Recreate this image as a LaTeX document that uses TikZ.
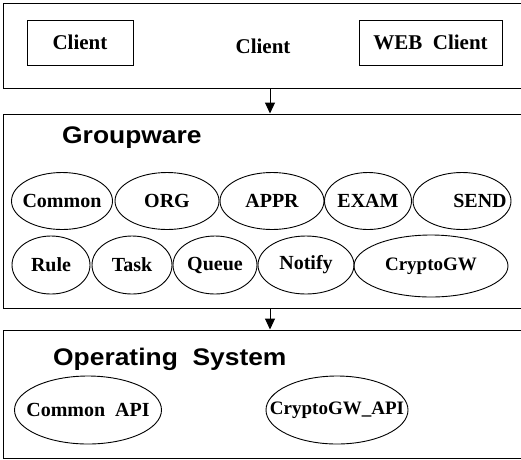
\documentclass[tikz,border=0pt]{standalone}
\usepackage{fontspec}
\setmainfont{Liberation Serif}
\newfontfamily\headfont{Liberation Sans}
\usetikzlibrary{shapes.geometric,arrows.meta}
\newcommand{\inoval}[1]{\makebox[0pt]{#1}}
\tikzset{
  panel/.style={draw, line width=1pt, inner sep=0pt},
  cbox/.style={draw, line width=1pt, inner sep=0pt, font=\fontsize{21}{23}\selectfont\bfseries},
  oval/.style={draw, ellipse, line width=0.9pt, inner sep=0pt, font=\fontsize{20}{22}\selectfont\bfseries},
  lbl/.style={inner sep=0pt, font=\fontsize{21}{23}\selectfont\bfseries},
  head/.style={inner sep=0pt, anchor=base west, font=\headfont\fontsize{24}{26}\selectfont\bfseries},
  arr/.style={line width=1pt, -{Triangle[length=11pt,width=10pt]}},
}
\begin{document}
\begin{tikzpicture}[x=1pt,y=-1pt]
\useasboundingbox (0,0) rectangle (521,459);
% three tiers
\node[panel, minimum width=520pt, minimum height=85pt] (tclient) at (263,45.5) {};
\node[panel, minimum width=520pt, minimum height=194pt] (tgw) at (263,211) {};
\node[panel, minimum width=520pt, minimum height=128pt] (tos) at (263,394) {};
% client tier
\node[cbox, minimum width=106pt, minimum height=45pt] (c1) at (80,42.5) {Client};
\node[lbl] (c2) at (263,46) {Client};
\node[cbox, minimum width=143pt, minimum height=45pt] (c3) at (430.5,42.5) {WEB\ \ Client};
% groupware tier
\node[head] (gwl) at (62,143) {\scalebox{1.1}[1]{Groupware}};
\node[oval, minimum width=101pt, minimum height=57pt] (m1) at (62,201) {\inoval{Common}};
\node[oval, minimum width=104pt, minimum height=57pt] (m2) at (167,201) {\inoval{ORG}};
\node[oval, minimum width=104pt, minimum height=57pt] (m3) at (272,201) {\inoval{APPR}};
\node[oval, minimum width=87pt, minimum height=57pt] (m4) at (368,201) {\inoval{EXAM}};
\node[oval, minimum width=98pt, minimum height=57pt] (m5) at (462,201) {\inoval{\hspace*{36pt}SEND}};
\node[oval, minimum width=78pt, minimum height=58pt] (n1) at (51,265) {\inoval{Rule}};
\node[oval, minimum width=80pt, minimum height=58pt] (n2) at (132,265) {\inoval{Task}};
\node[oval, minimum width=84pt, minimum height=58pt] (n3) at (215,265) {\inoval{Queue}};
\node[oval, minimum width=96pt, minimum height=58pt] (n4) at (306,265) {\inoval{Notify}};
\node[oval, minimum width=154pt, minimum height=62pt, font=\fontsize{19}{21}\selectfont\bfseries] (n5) at (431,266) {\inoval{CryptoGW}};
% operating system tier
\node[head] (osl) at (53,365) {\scalebox{1.1}[1]{Operating\ \ System}};
\node[oval, minimum width=147pt, minimum height=68pt] (o1) at (88,410) {\inoval{Common\ \ API}};
\node[oval, minimum width=142pt, minimum height=68pt, font=\fontsize{19}{21}\selectfont\bfseries] (o2) at (337,410) {\inoval{CryptoGW\_API}};
% calls between tiers
\draw[arr] ([xshift=7pt]tclient.south) -- ([xshift=7pt]tgw.north);
\draw[arr] ([xshift=7pt]tgw.south) -- ([xshift=7pt]tos.north);
\end{tikzpicture}
\end{document}
